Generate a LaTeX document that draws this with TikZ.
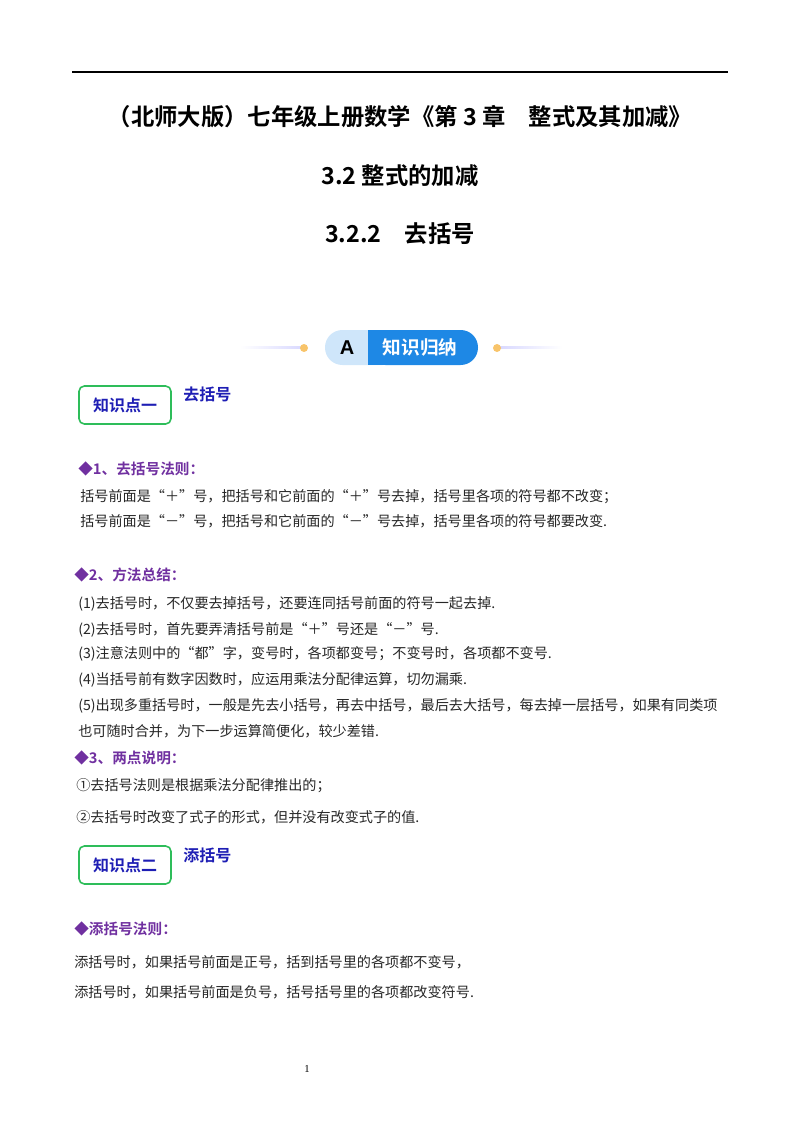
\documentclass[tikz,border=0pt]{standalone}
\usepackage{fontspec}
\setmainfont{Noto Sans CJK SC}
\newfontfamily\cjkb{Noto Sans CJK SC Bold}
\newfontfamily\latsans{Liberation Sans}
\newfontfamily\latserif{Liberation Serif}
\usetikzlibrary{calc}
\definecolor{purp}{HTML}{7030A0}
\definecolor{kblue}{HTML}{1E1EB4}
\definecolor{bdark}{HTML}{1E88E5}
\definecolor{blight}{HTML}{CFE6FA}
\definecolor{kgreen}{HTML}{2EBD5A}
\definecolor{dot}{HTML}{F8C46A}
\tikzset{
 body/.style={anchor=west,inner sep=0,font=\fontsize{10.6}{12}\selectfont,text=black!85},
 head/.style={anchor=west,inner sep=0,font=\cjkb\fontsize{11}{12}\selectfont,text=purp},
 title/.style={inner sep=0,font=\cjkb\fontsize{17.5}{20}\selectfont},
 kbox/.style={draw=kgreen,line width=1.2pt,rounded corners=4pt,minimum width=69pt,minimum height=28.5pt,text=kblue,font=\cjkb\fontsize{12}{13}\selectfont},
 ktitle/.style={anchor=west,inner sep=0,text=kblue,font=\cjkb\fontsize{12}{13}\selectfont},
}
\begin{document}
\begin{tikzpicture}[x=0.75pt,y=-0.75pt]
\useasboundingbox (0,0) rectangle (800,1132);
\draw[line width=0.8pt] (72,72) -- (728,72);
\node[title] (t1) at (400,117) {（北师大版）七年级上册数学《第 3 章\quad 整式及其加减》};
\node[title] (t2) at (400,176) {3.2 整式的加减};
\node[title] (t3) at (400,234) {3.2.2\quad 去括号};
% badge
\shade[left color=white,right color=blue!15] (240,346.5) rectangle (303,348);
\shade[left color=blue!15,right color=white] (500,346.5) rectangle (562,348);
\fill[dot] (304,348) circle (3pt);
\fill[dot] (497,348) circle (3pt);
\fill[blight,rounded corners=13pt] (325,330) rectangle (400,365);
\fill[bdark,rounded corners=13pt] (368,330) rectangle (478,365);
\fill[bdark] (368,330) rectangle (390,365);
\node[inner sep=0,font=\latsans\bfseries\fontsize{15}{16}\selectfont] (ba) at (347,347.5) {A};
\node[inner sep=0,text=white,font=\cjkb\fontsize{14}{15}\selectfont] (bb) at (420,347.5) {知识归纳};
% box 1
\node[kbox] (k1) at (125,405) {知识点一};
\node[ktitle] (k1t) at (183,394) {去括号};
\node[head] (h1) at (78,469) {◆1、去括号法则：};
\node[body] (l1) at (80,497) {括号前面是“＋”号，把括号和它前面的“＋”号去掉，括号里各项的符号都不改变；};
\node[body] (l2) at (80,521) {括号前面是“－”号，把括号和它前面的“－”号去掉，括号里各项的符号都要改变.};
\node[head] (h2) at (74,575) {◆2、方法总结：};
\node[body] (m1) at (78,604) {(1)去括号时，不仅要去掉括号，还要连同括号前面的符号一起去掉.};
\node[body] (m2) at (78,630) {(2)去括号时，首先要弄清括号前是“＋”号还是“－”号.};
\node[body] (m3) at (78,654) {(3)注意法则中的“都”字，变号时，各项都变号；不变号时，各项都不变号.};
\node[body] (m4) at (78,680) {(4)当括号前有数字因数时，应运用乘法分配律运算，切勿漏乘.};
\node[body] (m5) at (78,706) {(5)出现多重括号时，一般是先去小括号，再去中括号，最后去大括号，每去掉一层括号，如果有同类项};
\node[body] (m6) at (78,731) {也可随时合并，为下一步运算简便化，较少差错.};
\node[head] (h3) at (74,758) {◆3、两点说明：};
\node[body] (n1) at (76,786) {①去括号法则是根据乘法分配律推出的；};
\node[body] (n2) at (76,817) {②去括号时改变了式子的形式，但并没有改变式子的值.};
% box 2
\node[kbox] (k2) at (125,865) {知识点二};
\node[ktitle] (k2t) at (183,855) {添括号};
\node[head] (h4) at (74,929) {◆添括号法则：};
\node[body] (p1) at (74,962) {添括号时，如果括号前面是正号，括到括号里的各项都不变号，};
\node[body] (p2) at (74,992) {添括号时，如果括号前面是负号，括号括号里的各项都改变符号.};
\node[inner sep=0,font=\latserif\fontsize{8}{9}\selectfont] (pg) at (307,1069) {1};
\end{tikzpicture}
\end{document}
